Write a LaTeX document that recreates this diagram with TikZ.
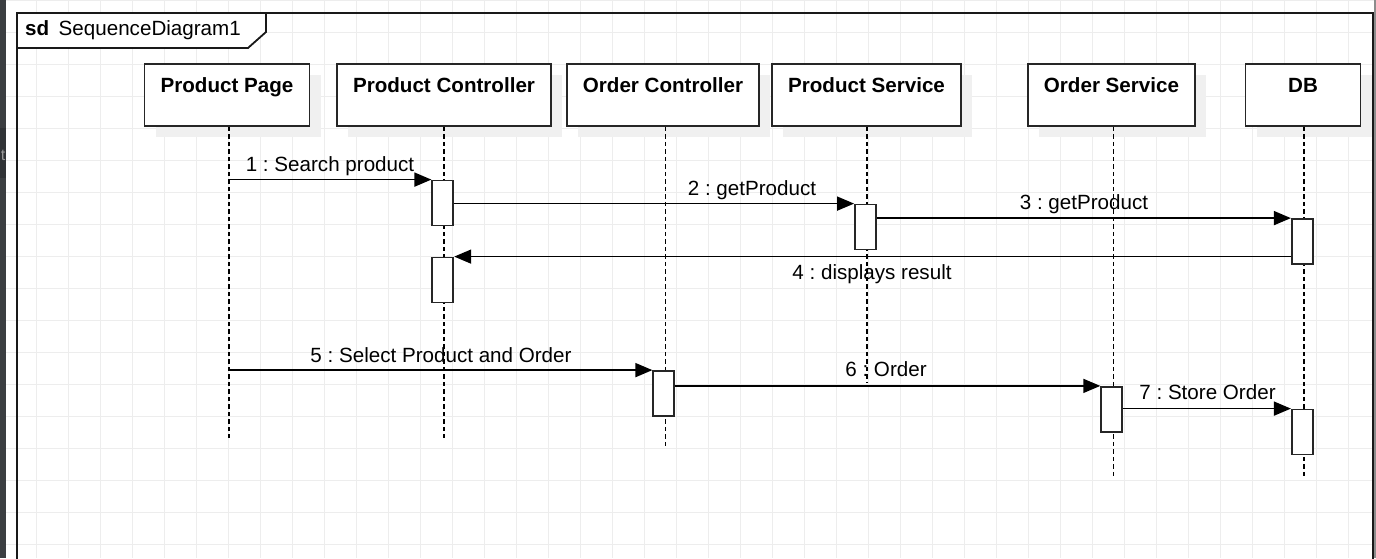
\documentclass[tikz,border=0pt]{standalone}
\usepackage{fontspec}
\setmainfont{Liberation Sans}
\usetikzlibrary{arrows.meta}
\usetikzlibrary{shadows}

\definecolor{uidark}{HTML}{3B3E41}
\definecolor{uidarker}{HTML}{303336}
\frenchspacing

\begin{document}
\begin{tikzpicture}
    [x=1pt,y=-1pt,
     every node/.style={inner sep=0pt,font=\fontsize{20.6}{24.7}\selectfont}]

    \tikzstyle{gridline} = [draw=black!7,line width=1pt]
    \tikzstyle{frame}    = [draw=black!90,line width=1.8pt]
    \tikzstyle{head}     = [draw=black!85,line width=1.8pt,fill=white,
                            text height=28pt,text depth=34pt,
                            font=\fontsize{20.6}{24.7}\selectfont\bfseries,
                            general shadow={fill=black!6,shadow xshift=11pt,shadow yshift=-11pt}]
    \tikzstyle{act}      = [draw=black!85,line width=1.8pt,fill=white,
                            minimum width=21pt,minimum height=45pt]
    \tikzstyle{lifeline} = [draw=black,line width=1.5pt,dash pattern=on 4.5pt off 3pt]
    \tikzstyle{msg}      = [draw=black,line width=1.6pt,-{Triangle[length=17pt,width=14pt]}]
    \tikzstyle{msglabel} = [anchor=base]

    \useasboundingbox (0,0) rectangle (1376,558);
    \clip (0,0) rectangle (1376,558);
    \fill[white] (0,0) rectangle (1376,558);

    % background grid
    \foreach \gx in {0,...,42}
        \draw[gridline] (4.7+32*\gx,0) -- (4.7+32*\gx,558);
    \foreach \gy in {0,...,17}
        \draw[gridline] (6,32*\gy+0.5) -- (1376,32*\gy+0.5);

    % window edges
    \fill[uidark] (0,0) rectangle (6,558);
    \fill[uidarker] (0,128) rectangle (6,178);
    \node[anchor=base east,text=black!40,font=\fontsize{16}{18}\selectfont] (tabt) at (5.5,160) {t};
    \fill[black!45] (1374.4,0) rectangle (1376,558);

    % frame
    \draw[frame] (17,13) rectangle (1373,600);
    \draw[frame,fill=white] (17,13) -- (266,13) -- (266,32) -- (248,48) -- (17,48) -- cycle;
    \node[anchor=base west] (sd) at (25,35.7) {\textbf{sd}\hspace{9.5pt}SequenceDiagram1};

    % lifeline heads
    \node[head,minimum width=165pt] (pp) at (227,95)    {Product Page};
    \node[head,minimum width=214pt] (pc) at (444,95)    {Product Controller};
    \node[head,minimum width=192pt] (oc) at (663,95)    {Order Controller};
    \node[head,minimum width=189pt] (ps) at (866.5,95)  {Product Service};
    \node[head,minimum width=167pt] (os) at (1111.5,95) {Order Service};
    \node[head,minimum width=115pt] (db) at (1303,95)   {DB};

    \coordinate (pp-end) at (229,438);
    \coordinate (pc-end) at (444,438);
    \coordinate (oc-end) at (665.5,449);
    \coordinate (ps-end) at (867,382);
    \coordinate (os-end) at (1113.5,477);
    \coordinate (db-end) at (1304,477);

    \draw[lifeline] (pp-end |- pp.south) -- (pp-end);
    \draw[lifeline] (pc-end |- pc.south) -- (pc-end);
    \draw[lifeline] (oc-end |- oc.south) -- (oc-end);
    \draw[lifeline] (ps-end |- ps.south) -- (ps-end);
    \draw[lifeline] (os-end |- os.south) -- (os-end);
    \draw[lifeline] (db-end |- db.south) -- (db-end);

    % activations
    \node[act] (pc1) at (442.8,203)    {};
    \node[act] (pc2) at (442.8,280)    {};
    \node[act] (ps1) at (865.5,227)    {};
    \node[act] (db1) at (1302.3,241.5) {};
    \node[act] (oc1) at (663.8,393.5)  {};
    \node[act] (os1) at (1111.7,409.3) {};
    \node[act] (db2) at (1302.3,432)   {};

    % messages
    \draw[msg] (pp-end |- pc1.north west) -- (pc1.north west);
    \draw[msg] (pc1.east |- ps1.north west) -- (ps1.north west);
    \draw[msg] (ps1.east |- db1.north west) -- (db1.north west);
    \draw[msg] (db1.west |- pc2.north east) -- (pc2.north east);
    \draw[msg] (pp-end |- oc1.north west) -- (oc1.north west);
    \draw[msg] (oc1.east |- os1.north west) -- (os1.north west);
    \draw[msg] (os1.east |- db2.north west) -- (db2.north west);

    \node[msglabel] (m1) at (330,171.7)  {1 : Search product};
    \node[msglabel] (m2) at (752,195)    {2 : getProduct};
    \node[msglabel] (m3) at (1084,209)   {3 : getProduct};
    \node[msglabel] (m4) at (872,279)    {4 : displays result};
    \node[msglabel] (m5) at (441,362)    {5 : Select Product and Order};
    \node[msglabel] (m6) at (886,376)    {6 : Order};
    \node[msglabel] (m7) at (1207.5,399) {7 : Store Order};
\end{tikzpicture}
\end{document}
